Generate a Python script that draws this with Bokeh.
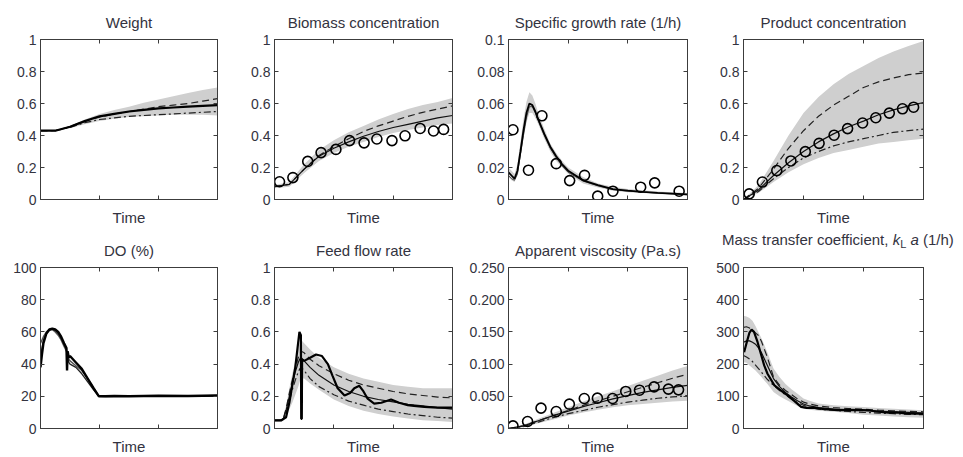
from bokeh.plotting import figure
from bokeh.models import Range1d, FixedTicker, LinearAxis, CustomLabelingPolicy, Div
from bokeh.layouts import row, column
from bokeh.embed import file_html
from bokeh.resources import INLINE

# ---------------- data ----------------
T13 = [0, 5, 10, 15, 20, 25, 30, 35, 40, 45, 50, 55, 60]

# Weight
W_MAIN = [0.43, 0.43, 0.455, 0.49, 0.52, 0.535, 0.55, 0.56, 0.57, 0.575, 0.58, 0.585, 0.59]
W_DASH = [0.43, 0.43, 0.455, 0.49, 0.515, 0.535, 0.55, 0.565, 0.58, 0.59, 0.60, 0.615, 0.63]
W_DDOT = [0.43, 0.43, 0.45, 0.48, 0.50, 0.51, 0.52, 0.525, 0.53, 0.535, 0.54, 0.545, 0.55]
W_HI = [0.43, 0.435, 0.46, 0.50, 0.535, 0.56, 0.58, 0.605, 0.625, 0.645, 0.665, 0.685, 0.70]
W_LO = [0.43, 0.43, 0.445, 0.47, 0.49, 0.505, 0.515, 0.52, 0.525, 0.53, 0.53, 0.53, 0.525]

# Biomass concentration
B_MAIN = [0.08, 0.095, 0.19, 0.27, 0.32, 0.36, 0.395, 0.425, 0.45, 0.47, 0.49, 0.51, 0.525]
B_DASH = [0.08, 0.095, 0.19, 0.275, 0.33, 0.38, 0.425, 0.46, 0.49, 0.52, 0.545, 0.565, 0.585]
B_HI = [0.09, 0.11, 0.22, 0.31, 0.37, 0.42, 0.46, 0.50, 0.535, 0.565, 0.59, 0.61, 0.635]
B_LO = [0.07, 0.08, 0.165, 0.24, 0.29, 0.33, 0.36, 0.39, 0.415, 0.435, 0.45, 0.465, 0.475]
B_OBS_T = [1.7, 6.2, 11.2, 15.7, 20.7, 25.3, 30.2, 34.5, 39.6, 44.0, 49.1, 53.6, 57.0]
B_OBS = [0.111, 0.137, 0.238, 0.293, 0.313, 0.368, 0.354, 0.378, 0.368, 0.398, 0.444, 0.428, 0.438]

# Specific growth rate
G_T = [0, 1, 2, 3, 4, 5, 6, 7, 8, 9, 10, 12, 14, 16, 18, 20, 25, 30, 35, 40, 45, 50, 55, 60]
G_MAIN = [0.017, 0.015, 0.013, 0.018, 0.030, 0.043, 0.054, 0.060, 0.059, 0.055, 0.050, 0.041,
          0.033, 0.027, 0.022, 0.018, 0.012, 0.009, 0.0065, 0.0055, 0.0048, 0.0042, 0.0037, 0.0032]
G_ALT = [0.015, 0.013, 0.012, 0.016, 0.028, 0.040, 0.051, 0.058, 0.058, 0.054, 0.049, 0.040,
         0.032, 0.026, 0.021, 0.017, 0.0115, 0.0085, 0.0062, 0.0052, 0.0046, 0.004, 0.0035, 0.003]
G_HI = [0.020, 0.018, 0.016, 0.022, 0.036, 0.050, 0.061, 0.067, 0.065, 0.060, 0.054, 0.044,
        0.035, 0.029, 0.024, 0.020, 0.014, 0.010, 0.008, 0.0065, 0.0058, 0.005, 0.0045, 0.004]
G_LO = [0.014, 0.012, 0.011, 0.015, 0.026, 0.038, 0.048, 0.054, 0.054, 0.051, 0.047, 0.038,
        0.030, 0.024, 0.020, 0.016, 0.010, 0.0075, 0.0055, 0.0045, 0.004, 0.0035, 0.003, 0.0025]
G_OBS_T = [1.5, 6.7, 11.2, 16.0, 20.5, 25.5, 29.9, 35.0, 44.3, 49.0, 57.2]
G_OBS = [0.0436, 0.0183, 0.0523, 0.0224, 0.0118, 0.0151, 0.0021, 0.0052, 0.0077, 0.0104, 0.0052]

# Product concentration
P_MAIN = [0.0, 0.06, 0.15, 0.23, 0.30, 0.36, 0.41, 0.455, 0.49, 0.53, 0.56, 0.585, 0.605]
P_DASH = [0.0, 0.07, 0.19, 0.32, 0.43, 0.52, 0.59, 0.645, 0.70, 0.735, 0.76, 0.78, 0.79]
P_DDOT = [0.0, 0.05, 0.13, 0.20, 0.26, 0.30, 0.335, 0.36, 0.38, 0.40, 0.42, 0.43, 0.44]
P_HI = [0.0, 0.09, 0.24, 0.40, 0.54, 0.64, 0.72, 0.785, 0.835, 0.885, 0.925, 0.96, 0.99]
P_LO = [0.0, 0.04, 0.11, 0.17, 0.22, 0.26, 0.29, 0.31, 0.33, 0.35, 0.36, 0.37, 0.38]
P_OBS_T = [1.9, 6.3, 11.1, 15.8, 20.6, 25.2, 30.2, 34.7, 39.7, 44.1, 48.6, 53.0, 56.7]
P_OBS = [0.035, 0.109, 0.181, 0.241, 0.299, 0.351, 0.402, 0.443, 0.478, 0.511, 0.540, 0.567, 0.577]

# DO (%)
D_T = [0, 0.5, 1, 2, 3, 4, 5, 6, 7, 8, 8.8, 9.0, 9.2, 9.6, 10, 12, 14, 16, 18, 19.8, 22, 25, 30, 40, 50, 60]
D_MAIN = [38, 46, 53, 59, 61.5, 62, 61.5, 60, 57, 53, 50, 36, 48, 44, 45, 41, 37, 31, 25, 20,
          20, 20.2, 20, 20.3, 20.2, 20.5]
D_ALT1 = [53, 55, 57, 60, 61.5, 61.5, 60, 58, 55, 51, 48, 47, 45, 43, 42, 39, 36, 31, 25, 20,
          20, 20, 20, 20, 20, 20.5]
D_ALT2 = [45, 50, 55, 59, 61, 61.5, 61, 59, 56, 52, 49, 46, 44, 41, 40, 38, 34, 29, 24, 20,
          19.8, 20, 20, 20, 20, 20.3]

# Feed flow rate
F_T = [0, 2, 3, 4, 5, 6, 7, 8, 8.5, 9, 10, 12, 15, 20, 25, 30, 35, 40, 45, 50, 55, 60]
F_HI = [0.05, 0.05, 0.07, 0.15, 0.25, 0.34, 0.42, 0.50, 0.53, 0.55, 0.53, 0.49, 0.44, 0.38, 0.34,
        0.31, 0.29, 0.27, 0.26, 0.25, 0.25, 0.25]
F_LO = [0.04, 0.04, 0.05, 0.08, 0.12, 0.16, 0.21, 0.26, 0.29, 0.31, 0.31, 0.28, 0.24, 0.18, 0.14,
        0.11, 0.09, 0.075, 0.062, 0.052, 0.046, 0.04]
F_MID = [0.05, 0.05, 0.06, 0.12, 0.20, 0.28, 0.35, 0.41, 0.43, 0.44, 0.42, 0.38, 0.33, 0.27, 0.23,
         0.20, 0.18, 0.165, 0.15, 0.14, 0.13, 0.12]
F_DASH = [0.05, 0.05, 0.065, 0.13, 0.22, 0.30, 0.37, 0.44, 0.46, 0.48, 0.47, 0.43, 0.39, 0.34, 0.30,
          0.27, 0.25, 0.23, 0.215, 0.205, 0.195, 0.19]
F_DDOT = [0.05, 0.05, 0.06, 0.10, 0.17, 0.24, 0.30, 0.35, 0.37, 0.38, 0.36, 0.31, 0.26, 0.21, 0.17,
          0.145, 0.12, 0.105, 0.09, 0.08, 0.07, 0.065]
F_MT = [0, 2.2, 3.9, 5, 6, 7, 8.4, 8.9, 9.0, 9.2, 9.3, 10, 12, 14, 16, 18, 19.5, 21.3, 23.6, 25.5,
        26.9, 28.6, 30, 31.4, 33.6, 36, 39.3, 42, 44.9, 47, 50.5, 55, 60]
F_MAIN = [0.05, 0.05, 0.07, 0.16, 0.27, 0.38, 0.60, 0.58, 0.06, 0.06, 0.43, 0.42, 0.44, 0.46, 0.45,
          0.40, 0.33, 0.25, 0.205, 0.22, 0.25, 0.265, 0.23, 0.185, 0.155, 0.16, 0.18, 0.16, 0.145,
          0.14, 0.134, 0.13, 0.13]

# Apparent viscosity (Pa.s)
V_MAIN = [0.0, 0.004, 0.012, 0.020, 0.027, 0.034, 0.040, 0.046, 0.051, 0.056, 0.060, 0.064, 0.067]
V_DASH = [0.0, 0.004, 0.012, 0.020, 0.028, 0.036, 0.043, 0.050, 0.057, 0.064, 0.071, 0.078, 0.084]
V_DDOT = [0.0, 0.003, 0.010, 0.017, 0.023, 0.028, 0.033, 0.037, 0.041, 0.044, 0.047, 0.049, 0.051]
V_HI = [0.0, 0.006, 0.015, 0.024, 0.033, 0.042, 0.050, 0.058, 0.066, 0.074, 0.082, 0.090, 0.097]
V_LO = [0.0, 0.002, 0.008, 0.014, 0.020, 0.025, 0.029, 0.033, 0.036, 0.038, 0.040, 0.042, 0.043]
V_OBS_T = [1.5, 6.4, 10.9, 16.0, 20.4, 25.4, 29.8, 34.9, 39.3, 43.9, 48.8, 53.6, 57.0]
V_OBS = [0.0041, 0.0109, 0.0316, 0.0264, 0.0378, 0.0466, 0.0471, 0.0466, 0.0575, 0.0595,
         0.0647, 0.0611, 0.060]

# Mass transfer coefficient kLa (1/h)
K_T = [0, 1, 2, 3, 4, 5, 6, 7, 8, 10, 12, 14, 16, 18, 20, 22, 25, 30, 35, 40, 45, 50, 55, 60]
K_DASH = [314, 316, 312, 305, 297, 289, 270, 245, 220, 160, 135, 118, 105, 92, 82, 76, 70, 65, 62,
          60, 57, 55, 53, 52]
K_MID = [268, 272, 272, 268, 262, 250, 235, 215, 195, 155, 130, 112, 98, 86, 76, 70, 65, 60, 58,
         56, 54, 52, 50, 48]
K_DDOT = [227, 222, 216, 208, 197, 186, 175, 163, 152, 134, 118, 104, 92, 80, 72, 66, 60, 57, 53,
          50, 48, 46, 44, 43]
K_HI = [350, 348, 343, 335, 318, 299, 280, 258, 235, 186, 160, 138, 122, 108, 93, 86, 78, 72, 69,
        67, 64, 61, 59, 57]
K_LO = [206, 204, 196, 188, 180, 170, 160, 148, 138, 113, 100, 90, 80, 70, 62, 58, 55, 52, 48, 43,
        40, 37, 35, 33]
K_MT = [0.2, 1, 2, 2.7, 3.5, 4.7, 6, 6.9, 8, 10.3, 12.5, 14.7, 17, 19.2, 21, 23.7, 27, 31.5, 35,
        39.3, 42, 45, 48.3, 51, 54, 57, 60]
K_MAIN = [237, 265, 298, 307, 300, 268, 225, 196, 170, 134, 118, 103, 85, 67, 64, 64, 60, 57, 58,
          57, 56, 52, 49, 50, 47, 46, 46]

# ticks
X_TICKS = [20, 40]
Y_UNIT = [0, 0.2, 0.4, 0.6, 0.8, 1]
Y_UNIT_LBL = ["0", "0.2", "0.4", "0.6", "0.8", "1"]
Y_MU = [0, 0.02, 0.04, 0.06, 0.08, 0.1]
Y_MU_LBL = ["0", "0.02", "0.04", "0.06", "0.08", "0.1"]
Y_DO = [0, 20, 40, 60, 80, 100]
Y_DO_LBL = ["0", "20", "40", "60", "80", "100"]
Y_VIS = [0, 0.05, 0.1, 0.15, 0.2, 0.25]
Y_VIS_LBL = ["0", "0.050", "0.100", "0.150", "0.200", "0.250"]
Y_KLA = [0, 100, 200, 300, 400, 500]
Y_KLA_LBL = ["0", "100", "200", "300", "400", "500"]

# ---------------- styling ----------------
FONT = "Liberation Sans"
TXT = "#333340"
FRAME = "#3c3c3c"
BAND = "#cfcfcf"

COL_W = [240, 225, 243, 255]
COL_L = [40, 34, 43, 35]
COL_R = [23, 13, 21, 40]
ROW_H = [228, 229]
ROW_T = [39, 39]
ROW_B = [28, 29]

NO_LABELS = """
try { indices.clear(); } catch (e) { for (const i of Array.from(indices)) { indices.unset(i); } }
return indices;
"""


def style_axis(ax, ticks, labels=None):
    ax.ticker = FixedTicker(ticks=ticks, minor_ticks=[])
    ax.major_tick_in = 4
    ax.major_tick_out = 0
    ax.minor_tick_in = 0
    ax.minor_tick_out = 0
    ax.axis_line_color = FRAME
    ax.major_tick_line_color = FRAME
    ax.major_label_standoff = 4
    if labels is None:
        ax.major_label_policy = CustomLabelingPolicy(code=NO_LABELS)
        ax.major_label_text_font_size = "0px"
        ax.major_label_standoff = 0
    else:
        ax.major_label_overrides = {t: l for t, l in zip(ticks, labels)}
        ax.major_label_text_font = FONT
        ax.major_label_text_font_size = "14px"
        ax.major_label_text_color = TXT


def make_fig(r, c, title, ymax, yticks, ylabels, height=None, top=None):
    p = figure(width=COL_W[c], height=height or ROW_H[r], x_range=Range1d(0, 60),
               y_range=Range1d(0, ymax),
               output_backend="svg", toolbar_location=None,
               x_axis_location=None, y_axis_location=None,
               min_border_left=COL_L[c], min_border_right=COL_R[c],
               min_border_top=top if top is not None else ROW_T[r], min_border_bottom=ROW_B[r])
    if title:
        p.title.text = title
    p.grid.visible = False
    p.outline_line_color = FRAME
    p.outline_line_width = 1
    p.background_fill_color = "white"
    p.border_fill_color = "white"
    p.title.text_font = FONT
    p.title.text_font_style = "normal"
    p.title.text_font_size = "15px"
    p.title.text_color = TXT
    p.title.align = "center"
    p.title.standoff = 18

    left = LinearAxis()
    style_axis(left, yticks, ylabels)
    p.add_layout(left, "left")
    right = LinearAxis()
    style_axis(right, yticks, None)
    p.add_layout(right, "right")
    below = LinearAxis(axis_label="Time")
    style_axis(below, X_TICKS, None)
    below.axis_label_text_font = FONT
    below.axis_label_text_font_style = "normal"
    below.axis_label_text_font_size = "15px"
    below.axis_label_text_color = TXT
    below.axis_label_standoff = 9
    p.add_layout(below, "below")
    above = LinearAxis()
    style_axis(above, X_TICKS, None)
    p.add_layout(above, "above")
    return p


def band(p, x, lo, hi):
    p.varea(x=x, y1=lo, y2=hi, fill_color=BAND, fill_alpha=1.0)


def circles(p, x, y):
    p.scatter(x=x, y=y, marker="circle", size=10, fill_color=None, line_color="black", line_width=1.6)


DASH = "7 4"
DDOT = "7 3 2 3"

# 1 Weight
p1 = make_fig(0, 0, "Weight", 1, Y_UNIT, Y_UNIT_LBL)
band(p1, T13, W_LO, W_HI)
p1.line(T13, W_DASH, line_color="#222222", line_width=1.2, line_dash=DASH)
p1.line(T13, W_DDOT, line_color="#222222", line_width=1.2, line_dash=DDOT)
p1.line(T13, W_MAIN, line_color="black", line_width=2.2)

# 2 Biomass
p2 = make_fig(0, 1, "Biomass concentration", 1, Y_UNIT, Y_UNIT_LBL)
band(p2, T13, B_LO, B_HI)
p2.line(T13, B_DASH, line_color="#222222", line_width=1.2, line_dash=DASH)
p2.line(T13, B_MAIN, line_color="#111111", line_width=1.2)
circles(p2, B_OBS_T, B_OBS)

# 3 Growth rate
p3 = make_fig(0, 2, "Specific growth rate (1/h)", 0.1, Y_MU, Y_MU_LBL)
band(p3, G_T, G_LO, G_HI)
p3.line(G_T, G_ALT, line_color="#444444", line_width=1.0)
p3.line(G_T, G_MAIN, line_color="black", line_width=1.8)
circles(p3, G_OBS_T, G_OBS)

# 4 Product
p4 = make_fig(0, 3, "Product concentration", 1, Y_UNIT, Y_UNIT_LBL)
band(p4, T13, P_LO, P_HI)
p4.line(T13, P_DASH, line_color="#222222", line_width=1.2, line_dash=DASH)
p4.line(T13, P_DDOT, line_color="#222222", line_width=1.2, line_dash=DDOT)
p4.line(T13, P_MAIN, line_color="#111111", line_width=1.2)
circles(p4, P_OBS_T, P_OBS)

# 5 DO
p5 = make_fig(1, 0, "DO (%)", 100, Y_DO, Y_DO_LBL)
p5.line(D_T, D_ALT1, line_color="#555555", line_width=1.5)
p5.line(D_T, D_ALT2, line_color="#222222", line_width=1.3)
p5.line(D_T, D_MAIN, line_color="black", line_width=2.4)

# 6 Feed
p6 = make_fig(1, 1, "Feed flow rate", 1, Y_UNIT, Y_UNIT_LBL)
band(p6, F_T, F_LO, F_HI)
p6.line(F_T, F_DASH, line_color="#222222", line_width=1.2, line_dash=DASH)
p6.line(F_T, F_DDOT, line_color="#222222", line_width=1.2, line_dash=DDOT)
p6.line(F_T, F_MID, line_color="#111111", line_width=1.2)
p6.line(F_MT, F_MAIN, line_color="black", line_width=2.2)

# 7 Viscosity
p7 = make_fig(1, 2, "Apparent viscosity (Pa.s)", 0.25, Y_VIS, Y_VIS_LBL)
band(p7, T13, V_LO, V_HI)
p7.line(T13, V_DASH, line_color="#222222", line_width=1.2, line_dash=DASH)
p7.line(T13, V_DDOT, line_color="#222222", line_width=1.2, line_dash=DDOT)
p7.line(T13, V_MAIN, line_color="#111111", line_width=1.2)
circles(p7, V_OBS_T, V_OBS)

# 8 kLa (title drawn as a rich-text header above the plot)
KLA_HEAD_H = 24
p8 = make_fig(1, 3, None, 500, Y_KLA, Y_KLA_LBL, height=ROW_H[1] - KLA_HEAD_H, top=ROW_T[1] - KLA_HEAD_H)
band(p8, K_T, K_LO, K_HI)
p8.line(K_T, K_DASH, line_color="#222222", line_width=1.2, line_dash=DASH)
p8.line(K_T, K_DDOT, line_color="#222222", line_width=1.2, line_dash=DDOT)
p8.line(K_T, K_MID, line_color="#111111", line_width=1.2)
p8.line(K_MT, K_MAIN, line_color="black", line_width=2.2)

kla_head = Div(
    text=('<div style="font-family:\'Liberation Sans\'; font-size:15px; color:%s; line-height:17px; '
          'padding-left:14px; padding-top:3px; white-space:nowrap; margin:0">Mass transfer coefficient, '
          '<i>k</i><sub style="font-size:11px; line-height:0; vertical-align:-3px">L</sub> '
          '<i>a</i> (1/h)</div>') % TXT,
    width=COL_W[3], height=KLA_HEAD_H, margin=(0, 0, 0, 0))

layout = column(row(p1, p2, p3, p4), row(p5, p6, p7, column(kla_head, p8)))

open("out.html", "w").write(file_html(layout, INLINE))
